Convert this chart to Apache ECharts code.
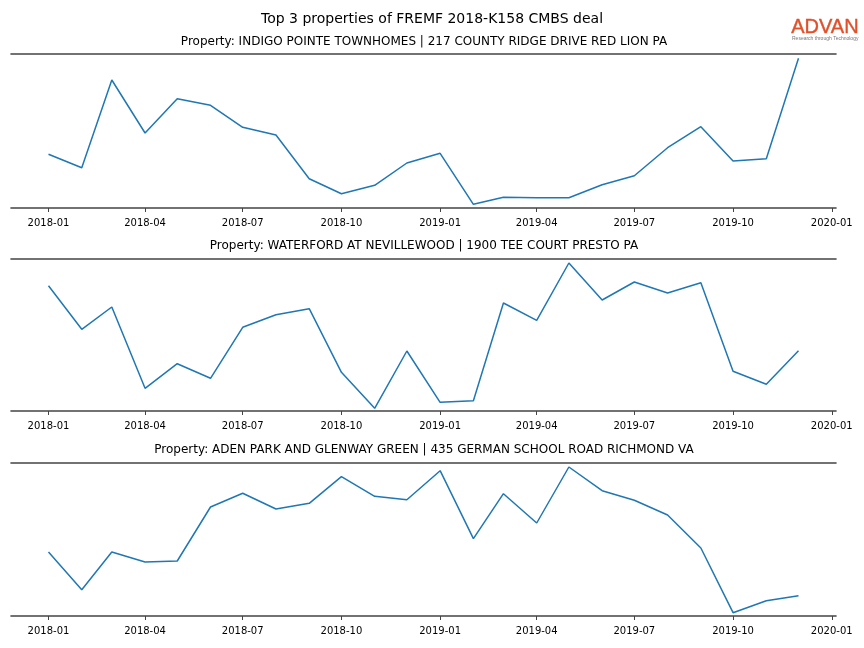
<!DOCTYPE html>
<html>
<head>
<meta charset="utf-8">
<script src="https://cdn.jsdelivr.net/npm/echarts@6/dist/echarts.min.js"></script>
<style>html,body{margin:0;padding:0;background:#fff}#c{width:864px;height:648px}</style>
</head>
<body>
<div id="c"></div>
<script>
// ---- data ----
var months = ['2018-01','2018-02','2018-03','2018-04','2018-05','2018-06','2018-07','2018-08','2018-09','2018-10','2018-11','2018-12',
              '2019-01','2019-02','2019-03','2019-04','2019-05','2019-06','2019-07','2019-08','2019-09','2019-10','2019-11','2019-12'];
var tickLabels = ['2018-01','2018-04','2018-07','2018-10','2019-01','2019-04','2019-07','2019-10','2020-01'];
var chartTitle = 'Top 3 properties of FREMF 2018-K158 CMBS deal';
var propertyTitles = [
  'Property: INDIGO POINTE TOWNHOMES | 217 COUNTY RIDGE DRIVE RED LION PA',
  'Property: WATERFORD AT NEVILLEWOOD | 1900 TEE COURT PRESTO PA',
  'Property: ADEN PARK AND GLENWAY GREEN | 435 GERMAN SCHOOL ROAD RICHMOND VA'
];
var indigoValues = [53.7, 40.3, 128, 75, 109.3, 102.7, 80.7, 73, 29.3, 14.3, 22.7, 45,
                    54.7, 3.7, 10.7, 10.3, 10.3, 23.3, 32.3, 60.3, 81.3, 47, 49.3, 149.7];
var waterfordValues = [125.3, 81.7, 104, 22.7, 47.3, 32.7, 83.7, 96.3, 102.3, 38.7, 2.7, 60,
                       8.7, 10.3, 108, 90.7, 148, 111, 129, 118, 128.3, 39.7, 26.7, 60.3];
var adenValues = [64, 26.3, 64, 54, 55, 109, 122.7, 107, 112.7, 139.3, 119.7, 116.3,
                  145.3, 77.3, 122.3, 93, 149, 125.3, 115.7, 101, 68, 3.3, 15.3, 20.3];
var yMax = [154, 152, 153];

// ---- build ----
function toDate(s){ var p = s.split('-'); return Date.UTC(+p[0], +p[1]-1, 1); }
function fmt(v){ var d = new Date(v); var m = d.getUTCMonth()+1; return d.getUTCFullYear() + '-' + (m < 10 ? '0' + m : m); }
var t0 = toDate(months[0]), t1 = toDate(months[months.length-1]);
var pad = (t1 - t0) * 0.05;
var xMin = t0 - pad, xMax = t1 + pad;
var tickVals = tickLabels.map(toDate);
var seriesData = [indigoValues, waterfordValues, adenValues];
var tops = [54, 259, 463];
var heights = [154, 152, 153];
var titleTops = [36, 240, 444];

var grids = [], xAxes = [], yAxes = [], series = [], titles = [];
titles.push({text: chartTitle, left: 432, top: 12, textAlign: 'center', padding: 0,
  textStyle: {fontFamily: 'DejaVu Sans', fontSize: 14, fontWeight: 'normal', color: '#000'}});
for (var i = 0; i < 3; i++) {
  grids.push({left: 11, right: 28, top: tops[i], height: heights[i], containLabel: false});
  xAxes.push({
    type: 'value', gridIndex: i, min: xMin, max: xMax, position: 'bottom',
    axisLine: {show: true, onZero: false, lineStyle: {color: '#444', width: 1.6}},
    axisTick: {show: true, customValues: tickVals, length: 4, lineStyle: {color: '#444', width: 1}},
    axisLabel: {show: true, customValues: tickVals, margin: 10, hideOverlap: false,
      showMinLabel: true, showMaxLabel: true,
      fontFamily: 'DejaVu Sans', fontSize: 10, color: '#000',
      formatter: function (v) { return fmt(v); }},
    splitLine: {show: false}
  });
  xAxes.push({
    type: 'value', gridIndex: i, min: xMin, max: xMax, position: 'top',
    axisLine: {show: true, onZero: false, lineStyle: {color: '#444', width: 1.6}},
    axisTick: {show: false}, axisLabel: {show: false}, splitLine: {show: false}
  });
  yAxes.push({type: 'value', gridIndex: i, min: 0, max: yMax[i], show: false, splitLine: {show: false}});
  series.push({
    type: 'line', xAxisIndex: i * 2, yAxisIndex: i, symbol: 'none', animation: false,
    lineStyle: {color: '#1f77b4', width: 1.5},
    data: months.map(function (m, k) { return [toDate(m), seriesData[i][k]]; })
  });
  titles.push({text: propertyTitles[i], left: 424, top: titleTops[i], textAlign: 'center', padding: 0,
    textStyle: {fontFamily: 'DejaVu Sans', fontSize: 12, fontWeight: 'normal', color: '#000'}});
}

var chart = echarts.init(document.getElementById('c'), null, {renderer: 'canvas'});
chart.setOption({
  animation: false,
  backgroundColor: '#fff',
  title: titles,
  grid: grids, xAxis: xAxes, yAxis: yAxes, series: series,
  graphic: [
    {type: 'text', left: 791, top: 17, style: {text: 'ADVAN', fontFamily: 'Liberation Sans', fontSize: 20, fontWeight: 'normal', fill: '#e2502a', stroke: '#e2502a', lineWidth: 0.4}},
    {type: 'text', left: 792, top: 36, style: {text: 'Research through Technology', fontFamily: 'Liberation Sans', fontSize: 5, fill: '#777'}}
  ]
});
</script>
</body>
</html>
